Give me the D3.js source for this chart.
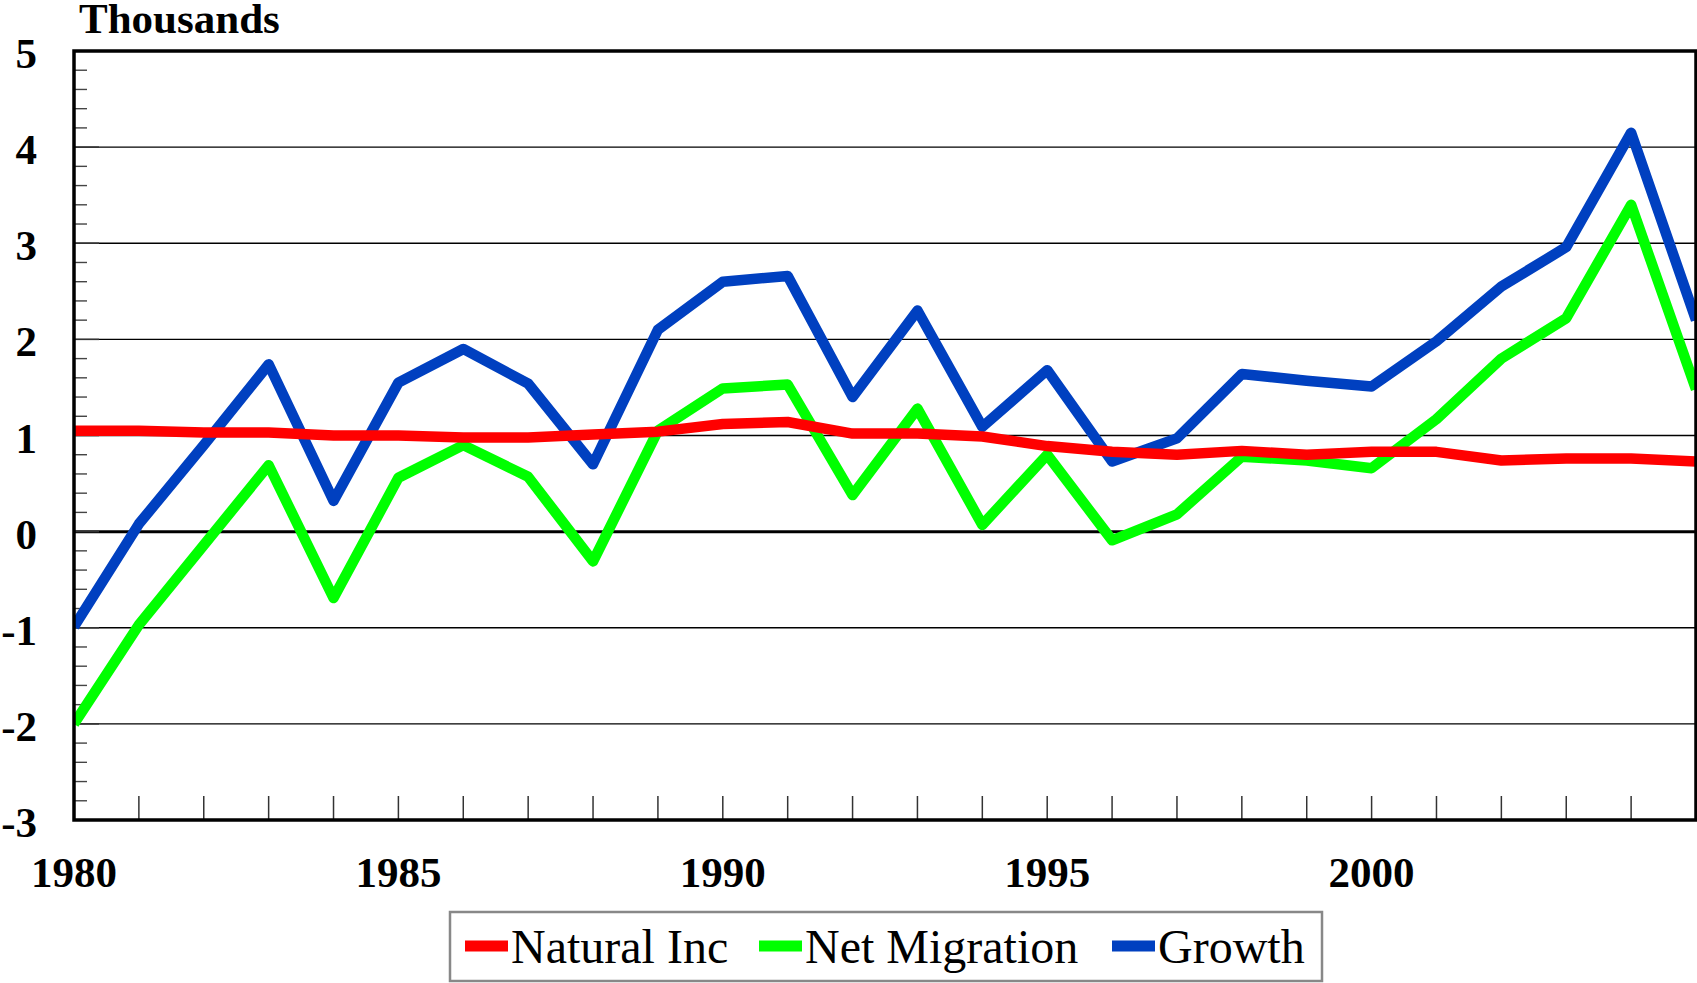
<!DOCTYPE html>
<meta charset="utf-8">
<style>
body { margin: 0; background: #fff; }
text { font-family: "Liberation Serif", "Times New Roman", serif; }
.tick-label { font-size: 43px; font-weight: bold; }
.legend-label { font-size: 48px; }
</style>
<body>
<svg id="chart"></svg>
<script src="https://d3js.org/d3.v7.min.js"></script>
<script>

var years = d3.range(1980, 2006);

var naturalInc = [1.05, 1.05, 1.03, 1.03, 1.00, 1.00, 0.98, 0.98, 1.01, 1.04,
                  1.12, 1.14, 1.02, 1.02, 0.99, 0.89, 0.83, 0.80, 0.84, 0.80,
                  0.83, 0.83, 0.74, 0.76, 0.76, 0.73];

var netMigration = [-2.0, -0.97, -0.14, 0.69, -0.69, 0.56, 0.90, 0.57, -0.31, 1.05,
                    1.49, 1.53, 0.38, 1.28, 0.07, 0.80, -0.09, 0.18, 0.78, 0.74,
                    0.66, 1.17, 1.80, 2.22, 3.40, 1.48];

var growth = [-0.99, 0.08, 0.90, 1.74, 0.32, 1.55, 1.90, 1.54, 0.70, 2.10,
              2.60, 2.66, 1.40, 2.30, 1.09, 1.68, 0.73, 0.97, 1.64, 1.57,
              1.51, 1.98, 2.55, 2.96, 4.15, 2.20];

var yTicks = [-3, -2, -1, 0, 1, 2, 3, 4, 5];
var xLabels = [1980, 1985, 1990, 1995, 2000];

var seriesNames = ["Natural Inc", "Net Migration", "Growth"];
var seriesColors = ["#ff0000", "#00ff00", "#0040c0"];
var seriesValues = [naturalInc, netMigration, growth];
var drawOrder = [1, 2, 0];

var width = 1697,
    height = 983,
    plotLeft = 74,
    plotRight = 1696,
    plotTop = 51,
    plotBottom = 820;

var svg = d3.select("#chart")
    .attr("width", width)
    .attr("height", height);

var x = d3.scaleLinear()
    .domain([1980, 2005])
    .range([plotLeft, plotRight]);

var y = d3.scaleLinear()
    .domain([-3, 5])
    .range([plotBottom, plotTop]);

svg.append("clipPath")
    .attr("id", "plot-clip")
  .append("rect")
    .attr("x", plotLeft)
    .attr("y", plotTop)
    .attr("width", plotRight - plotLeft)
    .attr("height", plotBottom - plotTop);

// horizontal grid lines
svg.append("g")
  .selectAll("line")
  .data(yTicks.filter(function(d) { return d > -3 && d < 5; }))
  .enter().append("line")
    .attr("x1", plotLeft)
    .attr("x2", plotRight)
    .attr("y1", function(d) { return y(d); })
    .attr("y2", function(d) { return y(d); })
    .attr("stroke", "#000")
    .attr("stroke-width", function(d) { return d === 0 ? 3 : 1.3; });

// minor y ticks
svg.append("g")
  .selectAll("line")
  .data(d3.range(-3, 5.001, 0.2).filter(function(d) { return Math.abs(d - Math.round(d)) > 0.01; }))
  .enter().append("line")
    .attr("x1", plotLeft)
    .attr("x2", plotLeft + 13)
    .attr("y1", function(d) { return y(d); })
    .attr("y2", function(d) { return y(d); })
    .attr("stroke", "#444")
    .attr("stroke-width", 1.4);

// major y ticks
svg.append("g")
  .selectAll("line")
  .data(yTicks)
  .enter().append("line")
    .attr("x1", plotLeft)
    .attr("x2", plotLeft + 25)
    .attr("y1", function(d) { return y(d); })
    .attr("y2", function(d) { return y(d); })
    .attr("stroke", "#333")
    .attr("stroke-width", 1.5);

// x ticks
svg.append("g")
  .selectAll("line")
  .data(years.slice(1))
  .enter().append("line")
    .attr("x1", function(d) { return x(d); })
    .attr("x2", function(d) { return x(d); })
    .attr("y1", plotBottom)
    .attr("y2", plotBottom - 24)
    .attr("stroke", "#333")
    .attr("stroke-width", 1.5);

// series lines (red drawn on top)
var line = d3.line()
    .x(function(d, i) { return x(years[i]); })
    .y(function(d) { return y(d); });

svg.append("g")
    .attr("clip-path", "url(#plot-clip)")
  .selectAll("path")
  .data(drawOrder)
  .enter().append("path")
    .attr("d", function(k) { return line(seriesValues[k]); })
    .attr("fill", "none")
    .attr("stroke", function(k) { return seriesColors[k]; })
    .attr("stroke-width", 10.5)
    .attr("stroke-linejoin", "round");

// frame
svg.append("path")
    .attr("d", "M" + plotLeft + "," + plotTop + "H" + plotRight + "V" + plotBottom + "H" + plotLeft + "Z")
    .attr("fill", "none")
    .attr("stroke", "#000")
    .attr("stroke-width", 3.5);

// y labels
svg.append("g")
  .selectAll("text")
  .data(yTicks)
  .enter().append("text")
    .attr("class", "tick-label")
    .attr("x", 37)
    .attr("y", function(d) { return y(d) + 17; })
    .attr("text-anchor", "end")
    .text(function(d) { return d; });

// x labels
svg.append("g")
  .selectAll("text")
  .data(xLabels)
  .enter().append("text")
    .attr("class", "tick-label")
    .attr("x", function(d) { return x(d); })
    .attr("y", 887)
    .attr("text-anchor", "middle")
    .text(function(d) { return d; });

svg.append("text")
    .attr("class", "tick-label")
    .attr("x", 79)
    .attr("y", 33)
    .text("Thousands");

// legend
var legend = svg.append("g");

legend.append("rect")
    .attr("x", 450)
    .attr("y", 912)
    .attr("width", 872)
    .attr("height", 69)
    .attr("fill", "#fff")
    .attr("stroke", "#888")
    .attr("stroke-width", 2.5);

var legendX = [465, 759, 1112];

var item = legend.selectAll(".item")
  .data(seriesNames)
  .enter().append("g")
    .attr("transform", function(d, i) { return "translate(" + legendX[i] + ",0)"; });

item.append("line")
    .attr("x1", 0)
    .attr("x2", 43)
    .attr("y1", 946)
    .attr("y2", 946)
    .attr("stroke", function(d, i) { return seriesColors[i]; })
    .attr("stroke-width", 11);

item.append("text")
    .attr("class", "legend-label")
    .attr("x", 46)
    .attr("y", 963)
    .text(function(d) { return d; });

</script>
